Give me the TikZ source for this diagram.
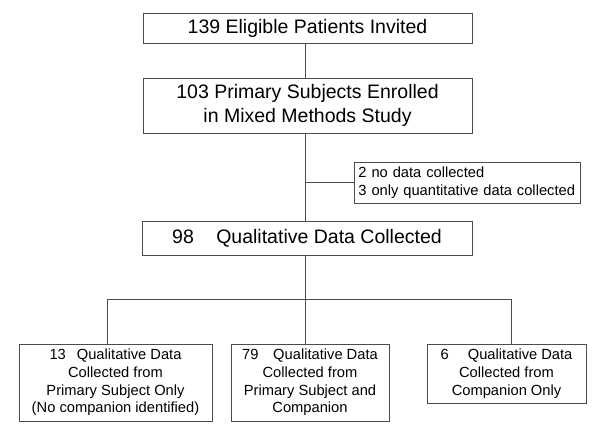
\documentclass[tikz,border=0pt]{standalone}
\usepackage{fontspec}
\setmainfont{Liberation Sans}

\begin{document}
\begin{tikzpicture}[x=1pt,y=-1pt,
		box/.style={draw=black!70,line width=0.9pt,inner sep=0pt,align=center},
		bigbox/.style={box,font=\fontsize{19.5}{23.5}\selectfont,minimum width=329pt},
		smallbox/.style={box,font=\fontsize{14.7}{17.7}\selectfont},
		link/.style={draw=black!70,line width=0.9pt}]
		\useasboundingbox (0,0) rectangle (601,435);

		\node [bigbox,minimum height=30pt] (invited) at (307.5,28) {139 Eligible Patients Invited};
		\node [bigbox,minimum height=55pt] (enrolled) at (307.5,105.5) {103 Primary Subjects Enrolled\\in Mixed Methods Study};
		\node [smallbox,minimum height=41pt,text width=218pt,align=left,inner xsep=4pt,anchor=west] (excluded) at (354,182.5) {2 no data collected\\3 only quantitative data collected};
		\node [bigbox,minimum width=330pt,minimum height=34pt] (qualdata) at (307,238) {98\hspace{1.15em}Qualitative Data Collected};

		\node [smallbox,minimum width=193pt,minimum height=77pt] (primonly) at (115.5,382.5) {13\hspace{0.75em}Qualitative Data\\Collected from\\Primary Subject Only\\(No companion identified)};
		\node [smallbox,minimum width=158pt,minimum height=77pt] (both) at (310,382.5) {79\hspace{1em}Qualitative Data\\Collected from\\Primary Subject and\\Companion};
		\node [smallbox,minimum width=159pt,minimum height=59pt] (componly) at (506.5,373.5) {6\hspace{1.3em}Qualitative Data\\Collected from\\Companion Only};

		\draw [link] ([xshift=-2.5pt]invited.south) -- ([xshift=-2.5pt]enrolled.north);
		\draw [link] ([xshift=-2.5pt]enrolled.south) -- ([xshift=-2pt]qualdata.north);
		\draw [link] (excluded.west) -- ++(-49,0);

		\draw [link] ([xshift=-2pt]qualdata.south) -- ++(0,44) coordinate (hub);
		\draw [link] ([xshift=-8.5pt]primonly.north) |- (hub) -| ([xshift=4.5pt]componly.north);
		\draw [link] (hub) -- ([xshift=-5pt]both.north);
	\end{tikzpicture}
\end{document}
